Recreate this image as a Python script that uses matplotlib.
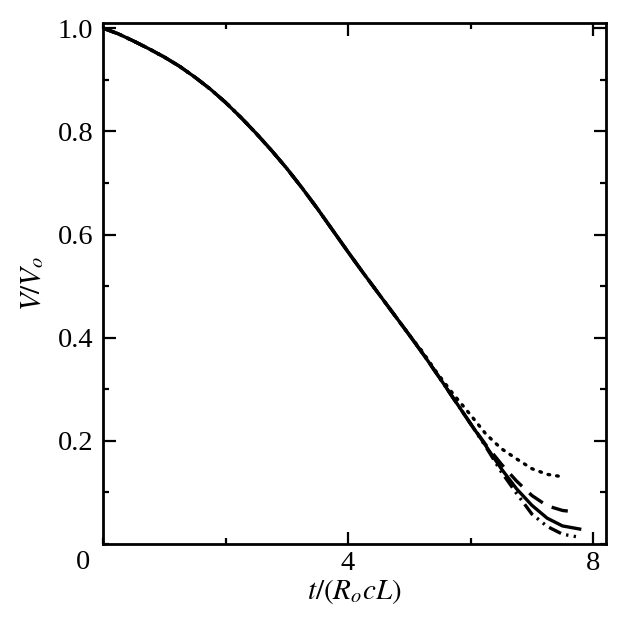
import numpy as np
import matplotlib
matplotlib.use("Agg")
import matplotlib.pyplot as plt
from matplotlib.ticker import MultipleLocator

# Common part of all curves (they overlap up to t ~ 5)
t_common = [0.0, 0.25, 0.5, 0.75, 1.0, 1.25, 1.5, 1.75, 2.0, 2.25, 2.5,
            2.75, 3.0, 3.25, 3.5, 3.75, 4.0, 4.25, 4.5, 4.75, 5.0]
v_common = [1.0, 0.989, 0.975, 0.960, 0.944, 0.926, 0.905, 0.882, 0.856,
            0.827, 0.796, 0.763, 0.728, 0.690, 0.650, 0.608, 0.566, 0.525,
            0.485, 0.445, 0.405]

# Tails of the individual curves
t_solid = [5.25, 5.5, 5.75, 6.0, 6.25, 6.5, 6.75, 7.0, 7.25, 7.5, 7.78]
v_solid = [0.364, 0.321, 0.277, 0.233, 0.190, 0.146, 0.107, 0.075, 0.050,
           0.035, 0.029]

t_dotted = [5.2, 5.45, 5.7, 6.0, 6.25, 6.5, 6.75, 7.0, 7.25, 7.52]
v_dotted = [0.375, 0.332, 0.293, 0.250, 0.213, 0.185, 0.165, 0.146, 0.135,
            0.130]

t_dashed = [5.25, 5.5, 5.75, 6.0, 6.25, 6.5, 6.75, 7.0, 7.25, 7.5, 7.72]
v_dashed = [0.364, 0.321, 0.277, 0.233, 0.192, 0.155, 0.122, 0.094, 0.074,
            0.065, 0.062]

t_dashdot = [5.25, 5.5, 5.75, 6.0, 6.25, 6.5, 6.75, 7.0, 7.25, 7.5, 7.78]
v_dashdot = [0.364, 0.321, 0.277, 0.233, 0.188, 0.140, 0.098, 0.058, 0.034,
             0.019, 0.013]

plt.rcParams["font.family"] = ["Liberation Serif", "DejaVu Serif"]
plt.rcParams["mathtext.fontset"] = "stix"
plt.rcParams["font.size"] = 20.5

fig = plt.figure(figsize=(6.21, 6.22), dpi=100)
ax = fig.add_axes([0.1659, 0.1254, 0.81, 0.8376])

lw = 2.4
ax.plot(t_common + t_solid, v_common + v_solid, color="black", lw=lw)
ax.plot(t_common + t_dotted, v_common + v_dotted, color="black", lw=lw,
        linestyle=(0, (0.5, 2.1)), dash_capstyle="round")
ax.plot(t_common + t_dashed, v_common + v_dashed, color="black", lw=lw,
        linestyle=(0, (5.0, 3.0)))
ax.plot(t_common + t_dashdot, v_common + v_dashdot, color="black", lw=lw,
        linestyle=(0, (4.0, 1.6, 0.7, 1.6, 0.7, 1.6)))

ax.set_xlim(0, 8.21)
ax.set_ylim(0, 1.01)

ax.set_xticks([4, 8])
ax.xaxis.set_minor_locator(MultipleLocator(2))
ax.set_yticks([0.2, 0.4, 0.6, 0.8, 1.0])
ax.set_yticklabels(["0.2", "0.4", "0.6", "0.8", "1.0"])
ax.yaxis.set_minor_locator(MultipleLocator(0.1))

ax.tick_params(which="both", direction="in", top=True, right=True, width=1.6)
ax.tick_params(which="major", length=9, pad=5)
ax.tick_params(which="minor", length=4.5)
ax.tick_params(axis="y", which="major", pad=7)
for s in ax.spines.values():
    s.set_linewidth(2.0)

ax.text(-0.025, -0.012, "0", transform=ax.transAxes, ha="right", va="top")

ax.set_xlabel(r"$t/(R_o cL)$", fontsize=21, labelpad=1)
ax.set_ylabel(r"$V/V_o$", fontsize=21, labelpad=8)

fig.savefig("out.png", dpi=100)
